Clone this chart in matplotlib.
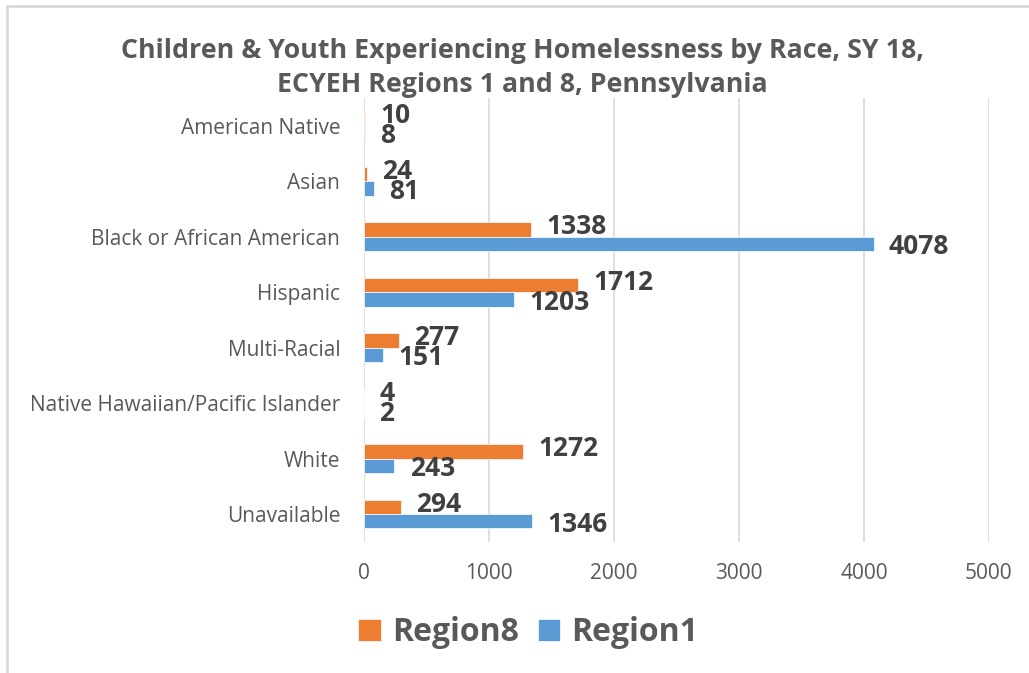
import matplotlib
matplotlib.use('Agg')
import numpy as np
import matplotlib.pyplot as plt
from matplotlib.patches import Rectangle

plt.rcParams['font.family'] = ['Open Sans', 'DejaVu Sans']

# chart data
categories = ["American Native", "Asian", "Black or African American", "Hispanic",
              "Multi-Racial", "Native Hawaiian/Pacific Islander", "White", "Unavailable"]
region8 = [10, 24, 1338, 1712, 277, 4, 1272, 294]
region1 = [8, 81, 4078, 1203, 151, 2, 243, 1346]
x_ticks = [0, 1000, 2000, 3000, 4000, 5000]

orange = "#ed7d31"
blue = "#5b9bd5"
text_dark = "#404040"
text_grey = "#595959"

fig = plt.figure(figsize=(10.29, 6.73), dpi=100)
ax = fig.add_axes([0.3537, 0.195, 0.6073, 0.659])

y = np.arange(len(categories))
h = 0.26
bars8 = ax.barh(y - h / 2, region8, height=h, color=orange, edgecolor="white", linewidth=0.5, label="Region8", zorder=3)
bars1 = ax.barh(y + h / 2, region1, height=h, color=blue, edgecolor="white", linewidth=0.5, label="Region1", zorder=3)

# labels sit a little apart from each other, like Excel puts them
for bars, vals, dy in ((bars8, region8, 2), (bars1, region1, -2)):
    for b, v in zip(bars, vals):
        ax.annotate(str(v), (b.get_width(), b.get_y() + b.get_height() / 2),
                    xytext=(11, dy), textcoords="offset points",
                    ha="left", va="center", fontsize=19, fontweight="bold",
                    color=text_dark, zorder=4)

ax.set_ylim(len(categories) - 0.5, -0.5)
ax.set_xlim(0, 5000)
ax.set_yticks(y)
ax.set_yticklabels(categories)
ax.set_xticks(x_ticks)
ax.tick_params(axis="y", length=0, pad=17, labelsize=15, labelcolor=text_grey)
ax.tick_params(axis="x", length=0, pad=15, labelsize=15, labelcolor=text_grey)
ax.grid(axis="x", color="#d9d9d9", linewidth=1.2, zorder=0)
for s in ax.spines.values():
    s.set_visible(False)

fig.text(0.508, 0.899, "Children & Youth Experiencing Homelessness by Race, SY 18,\nECYEH Regions 1 and 8, Pennsylvania",
         ha="center", va="center", fontsize=19.3, fontweight="bold", color=text_grey,
         linespacing=1.42)

leg = fig.legend(handles=[bars8, bars1], loc="center", bbox_to_anchor=(0.5136, 0.06),
                 ncol=2, frameon=False, prop={"size": 23, "weight": "bold"},
                 handlelength=0.7, handleheight=0.7, handletextpad=0.35, columnspacing=0.6)
for t in leg.get_texts():
    t.set_color(text_grey)

fig.patches.append(Rectangle((6.5 / 1029, -0.1), 1.2, 1 - 6.5 / 673 + 0.1,
                             transform=fig.transFigure, fill=False,
                             edgecolor="#d9d9d9", linewidth=2))

fig.savefig("out.png", dpi=100)
